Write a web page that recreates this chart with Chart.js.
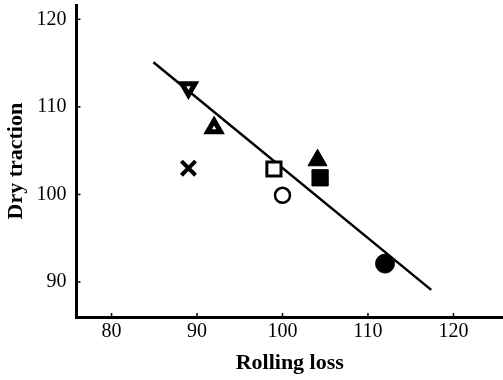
<!DOCTYPE html>
<html lang="en">
<head>
<meta charset="UTF-8">
<title>Dry traction vs rolling loss</title>
<style>
  body { margin: 0; background: #fff; }
  .chart-container { position: relative; width: 503px; height: 380px; }
</style>
<script src="https://cdn.jsdelivr.net/npm/chart.js"></script>
</head>
<body>
<div class="chart-container"><canvas id="tractionChart"></canvas></div>
<script>
  // values
  var rollingLoss = [89, 92, 89, 99, 100, 104.1, 104.4, 112];
  var dryTraction = [112.2, 107.6, 103, 102.9, 99.9, 103.9, 101.9, 92.1];
  var fitLoss = [84.9, 117.4];
  var fitTraction = [115.1, 89.1];
  var xTicks = [80, 90, 100, 110, 120];
  var yTicks = [90, 100, 110, 120];

  var serif = 'Liberation Serif';

  // small ticks pointing into the plot
  var innerTicks = {
    id: 'innerTicks',
    afterDraw: function (chart) {
      var ctx = chart.ctx, a = chart.chartArea;
      var sx = chart.scales.x, sy = chart.scales.y;
      ctx.save();
      ctx.strokeStyle = '#000';
      ctx.lineWidth = 1.5;
      xTicks.forEach(function (v) {
        var px = sx.getPixelForValue(v);
        ctx.beginPath(); ctx.moveTo(px, a.bottom); ctx.lineTo(px, a.bottom - 4); ctx.stroke();
      });
      yTicks.forEach(function (v) {
        var py = sy.getPixelForValue(v);
        ctx.beginPath(); ctx.moveTo(a.left, py); ctx.lineTo(a.left + 4, py); ctx.stroke();
      });
      ctx.restore();
    }
  };

  var points = rollingLoss.map(function (v, i) { return { x: v, y: dryTraction[i] }; });
  var fitPoints = fitLoss.map(function (v, i) { return { x: v, y: fitTraction[i] }; });

  var ctx = document.getElementById('tractionChart').getContext('2d');
  var tractionChart = new Chart(ctx, {
    type: 'scatter',
    data: {
      datasets: [
        {
          data: points,
          pointStyle: ['triangle', 'triangle', 'crossRot', 'rect', 'circle', 'triangle', 'rect', 'circle'],
          pointRotation: [180, 0, 0, 0, 0, 0, 0, 0],
          pointRadius: [7.5, 7.5, 10, 10, 7.5, 11, 11.5, 9.5],
          pointBorderWidth: [5, 5, 4, 3, 2.5, 1, 1, 1],
          pointBackgroundColor: ['#fff', '#fff', '#000', '#fff', '#fff', '#000', '#000', '#000'],
          pointBorderColor: '#000'
        },
        {
          data: fitPoints,
          showLine: true,
          borderColor: '#000',
          borderWidth: 2.5,
          pointRadius: 0
        }
      ]
    },
    options: {
      responsive: true,
      maintainAspectRatio: false,
      animation: false,
      layout: { autoPadding: false, padding: { top: 5.3, right: 0, left: 0, bottom: 0 } },
      plugins: { legend: { display: false }, tooltip: { enabled: false } },
      scales: {
        x: {
          type: 'linear',
          min: 75.9,
          max: 125.8,
          afterBuildTicks: function (s) { s.ticks = xTicks.map(function (v) { return { value: v }; }); },
          afterFit: function (s) { s.height = 63; s.paddingLeft = 0; s.paddingRight = 0; },
          grid: { drawOnChartArea: false, drawTicks: false },
          border: { display: true, color: '#000', width: 3 },
          ticks: { color: '#000', padding: 3, maxRotation: 0, autoSkip: false, font: { family: serif, size: 20 } },
          title: { display: true, text: 'Rolling loss', color: '#000', padding: { top: 0, bottom: 3 }, font: { family: serif, size: 22, weight: 'bold' } }
        },
        y: {
          type: 'linear',
          min: 86,
          max: 121.6,
          afterBuildTicks: function (s) { s.ticks = yTicks.map(function (v) { return { value: v }; }); },
          afterFit: function (s) { s.width = 76.5; s.paddingTop = 0; s.paddingBottom = 0; },
          grid: { drawOnChartArea: false, drawTicks: false },
          border: { display: true, color: '#000', width: 3 },
          ticks: { color: '#000', padding: 10, autoSkip: false, font: { family: serif, size: 20 } },
          title: { display: true, text: 'Dry traction', color: '#000', padding: { top: 3, bottom: 0 }, font: { family: serif, size: 22, weight: 'bold' } }
        }
      }
    },
    plugins: [innerTicks]
  });
</script>
</body>
</html>
